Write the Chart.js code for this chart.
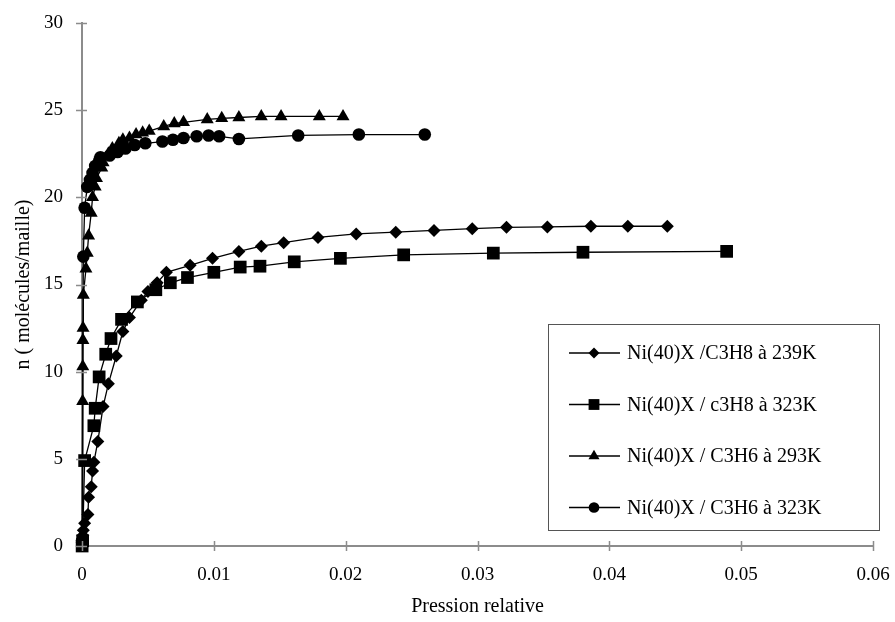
<!DOCTYPE html>
<html>
<head>
<meta charset="utf-8">
<script src="https://cdn.jsdelivr.net/npm/chart.js@4/dist/chart.umd.min.js"></script>
<style>
  html, body { margin: 0; padding: 0; background: #fff; }
  #wrap { width: 895px; height: 622px; }
</style>
</head>
<body>
<div id="wrap"><canvas id="chart" width="895" height="622"></canvas></div>
<script>
// data
const seriesNames = [
  'Ni(40)X /C3H8 à 239K',
  'Ni(40)X / c3H8 à 323K',
  'Ni(40)X / C3H6 à 293K',
  'Ni(40)X / C3H6 à 323K'
];

const c3h8_239_x = [0.00001, 0.00003, 0.00006, 0.0001, 0.0002, 0.00045, 0.0005, 0.0007, 0.0008, 0.0009,
  0.0012, 0.0016, 0.0020, 0.0026, 0.0031, 0.0036, 0.0045, 0.0050, 0.0057, 0.0064, 0.0082, 0.0099,
  0.0119, 0.0136, 0.0153, 0.0179, 0.0208, 0.0238, 0.0267, 0.0296, 0.0322, 0.0353, 0.0386, 0.0414, 0.0444];
const c3h8_239_y = [0.2, 0.4, 0.6, 0.9, 1.3, 1.8, 2.8, 3.4, 4.3, 4.8,
  6.0, 8.0, 9.3, 10.9, 12.3, 13.1, 14.1, 14.6, 15.1, 15.7, 16.1, 16.5,
  16.9, 17.2, 17.4, 17.7, 17.9, 18.0, 18.1, 18.2, 18.28, 18.3, 18.34, 18.34, 18.34];

const c3h8_323_x = [0.00001, 0.00005, 0.0002, 0.0009, 0.0010, 0.0013, 0.0018, 0.0022, 0.0030, 0.0042, 0.0056,
  0.0067, 0.0080, 0.0100, 0.0120, 0.0135, 0.0161, 0.0196, 0.0244, 0.0312, 0.0380, 0.0489];
const c3h8_323_y = [0.0, 0.3, 4.9, 6.9, 7.9, 9.7, 11.0, 11.9, 13.0, 14.0, 14.7,
  15.1, 15.4, 15.7, 16.0, 16.05, 16.3, 16.5, 16.7, 16.8, 16.85, 16.9];

const c3h6_293_x = [0.00001, 0.00005, 0.00006, 0.00007, 0.00008, 0.0001, 0.0003, 0.0004, 0.0005, 0.0007, 0.0008,
  0.0010, 0.0011, 0.0015, 0.0016, 0.0020, 0.0023, 0.0028, 0.0031, 0.0036, 0.0041, 0.0046, 0.0051,
  0.0062, 0.0070, 0.0077, 0.0095, 0.0106, 0.0119, 0.0136, 0.0151, 0.0180, 0.0198];
const c3h6_293_y = [0.2, 8.3, 10.3, 11.8, 12.5, 14.4, 15.9, 16.8, 17.8, 19.1, 20.0,
  20.6, 21.1, 21.7, 22.0, 22.5, 22.8, 23.1, 23.3, 23.4, 23.6, 23.7, 23.8,
  24.07, 24.24, 24.3, 24.47, 24.53, 24.58, 24.64, 24.64, 24.64, 24.64];

const c3h6_323_x = [0.00001, 0.0001, 0.0002, 0.0004, 0.0006, 0.0008, 0.0010, 0.0013, 0.0014, 0.0021, 0.0027, 0.0033,
  0.0040, 0.0048, 0.0061, 0.0069, 0.0077, 0.0087, 0.0096, 0.0104, 0.0119, 0.0164, 0.0210, 0.0260];
const c3h6_323_y = [0.3, 16.6, 19.4, 20.6, 21.0, 21.4, 21.8, 22.1, 22.3, 22.4, 22.6, 22.8,
  23.0, 23.1, 23.2, 23.3, 23.4, 23.5, 23.55, 23.5, 23.35, 23.55, 23.6, 23.6];

const xTicks = [0, 0.01, 0.02, 0.03, 0.04, 0.05, 0.06];
const yTicks = [0, 5, 10, 15, 20, 25, 30];

const FONT = '"Liberation Serif", "Times New Roman", serif';
const AXIS = '#8c8c8c';

function pts(xs, ys) {
  return xs.map((x, i) => ({ x: x, y: ys[i] }));
}

function ds(label, xs, ys, style, r) {
  return {
    label: label,
    data: pts(xs, ys),
    showLine: true,
    borderColor: '#000',
    borderWidth: 1.3,
    backgroundColor: '#000',
    pointStyle: style,
    pointRadius: r,
    pointHoverRadius: r,
    pointBackgroundColor: '#000',
    pointBorderColor: '#000',
    pointBorderWidth: 0,
    clip: false
  };
}

// ticks crossing both axes, like the original
const crossTicks = {
  id: 'crossTicks',
  afterDraw(chart) {
    const ctx = chart.ctx;
    const xs = chart.scales.x, ys = chart.scales.y;
    ctx.save();
    ctx.strokeStyle = AXIS;
    ctx.lineWidth = 1.5;
    ctx.beginPath();
    xTicks.forEach(v => {
      const p = Math.round(xs.getPixelForValue(v)) + 0.5;
      ctx.moveTo(p, ys.bottom - 5);
      ctx.lineTo(p, ys.bottom + 5);
    });
    yTicks.forEach(v => {
      const p = Math.round(ys.getPixelForValue(v)) + 0.5;
      ctx.moveTo(xs.left - 6, p);
      ctx.lineTo(xs.left + 5, p);
    });
    ctx.stroke();
    ctx.restore();
  }
};

// boxed legend inside the plot
const boxLegend = {
  id: 'boxLegend',
  afterDraw(chart) {
    const ctx = chart.ctx;
    const left = 548, top = 324, w = 331, h = 206;
    ctx.save();
    ctx.fillStyle = '#fff';
    ctx.fillRect(left, top, w, h);
    ctx.strokeStyle = '#555';
    ctx.lineWidth = 1;
    ctx.strokeRect(left + 0.5, top + 0.5, w, h);
    ctx.font = '20px ' + FONT;
    ctx.textBaseline = 'middle';
    chart.data.datasets.forEach((d, i) => {
      const y = 353 + i * 51.5;
      ctx.strokeStyle = '#000';
      ctx.lineWidth = 1.3;
      ctx.beginPath();
      ctx.moveTo(569, y);
      ctx.lineTo(620, y);
      ctx.stroke();
      ctx.fillStyle = '#000';
      Chart.helpers.drawPoint(ctx, {
        pointStyle: d.pointStyle,
        radius: d.pointRadius * 0.85,
        rotation: 0,
        borderWidth: 0
      }, 594, y);
      ctx.fillStyle = '#000';
      ctx.fillText(d.label, 627, y + 1);
    });
    ctx.restore();
  }
};

new Chart(document.getElementById('chart'), {
  type: 'scatter',
  data: {
    datasets: [
      ds(seriesNames[0], c3h8_239_x, c3h8_239_y, 'rectRot', 6.5),
      ds(seriesNames[1], c3h8_323_x, c3h8_323_y, 'rect', 9),
      ds(seriesNames[2], c3h6_293_x, c3h6_293_y, 'triangle', 7.5),
      ds(seriesNames[3], c3h6_323_x, c3h6_323_y, 'circle', 6.3)
    ]
  },
  options: {
    responsive: false,
    animation: false,
    events: [],
    layout: { padding: { left: 0, right: 22, top: 23, bottom: 0 } },
    plugins: {
      legend: { display: false },
      tooltip: { enabled: false }
    },
    scales: {
      x: {
        type: 'linear',
        min: 0,
        max: 0.06,
        afterFit(s) { s.height = 76; s.paddingLeft = 0; s.paddingRight = 0; },
        afterBuildTicks(s) { s.ticks = xTicks.map(v => ({ value: v })); },
        grid: { display: false, drawTicks: false },
        border: { display: true, color: AXIS, width: 2 },
        ticks: {
          padding: 18,
          color: '#000',
          font: { family: FONT, size: 19 },
          callback: v => (v === 0 ? '0' : v.toFixed(2))
        },
        title: {
          display: true,
          text: 'Pression relative',
          color: '#000',
          font: { family: FONT, size: 20 },
          padding: { top: 0, bottom: 3 }
        }
      },
      y: {
        type: 'linear',
        min: 0,
        max: 30,
        afterFit(s) { s.width = 82; s.paddingTop = 0; s.paddingBottom = 0; },
        afterBuildTicks(s) { s.ticks = yTicks.map(v => ({ value: v })); },
        grid: { display: false, drawTicks: false },
        border: { display: true, color: AXIS, width: 2 },
        ticks: {
          padding: 19,
          color: '#000',
          font: { family: FONT, size: 19 },
          callback: v => String(v)
        },
        title: {
          display: true,
          text: 'n ( molécules/maille)',
          color: '#000',
          font: { family: FONT, size: 20 },
          padding: { top: 12, bottom: 0 }
        }
      }
    }
  },
  plugins: [crossTicks, boxLegend]
});
</script>
</body>
</html>
